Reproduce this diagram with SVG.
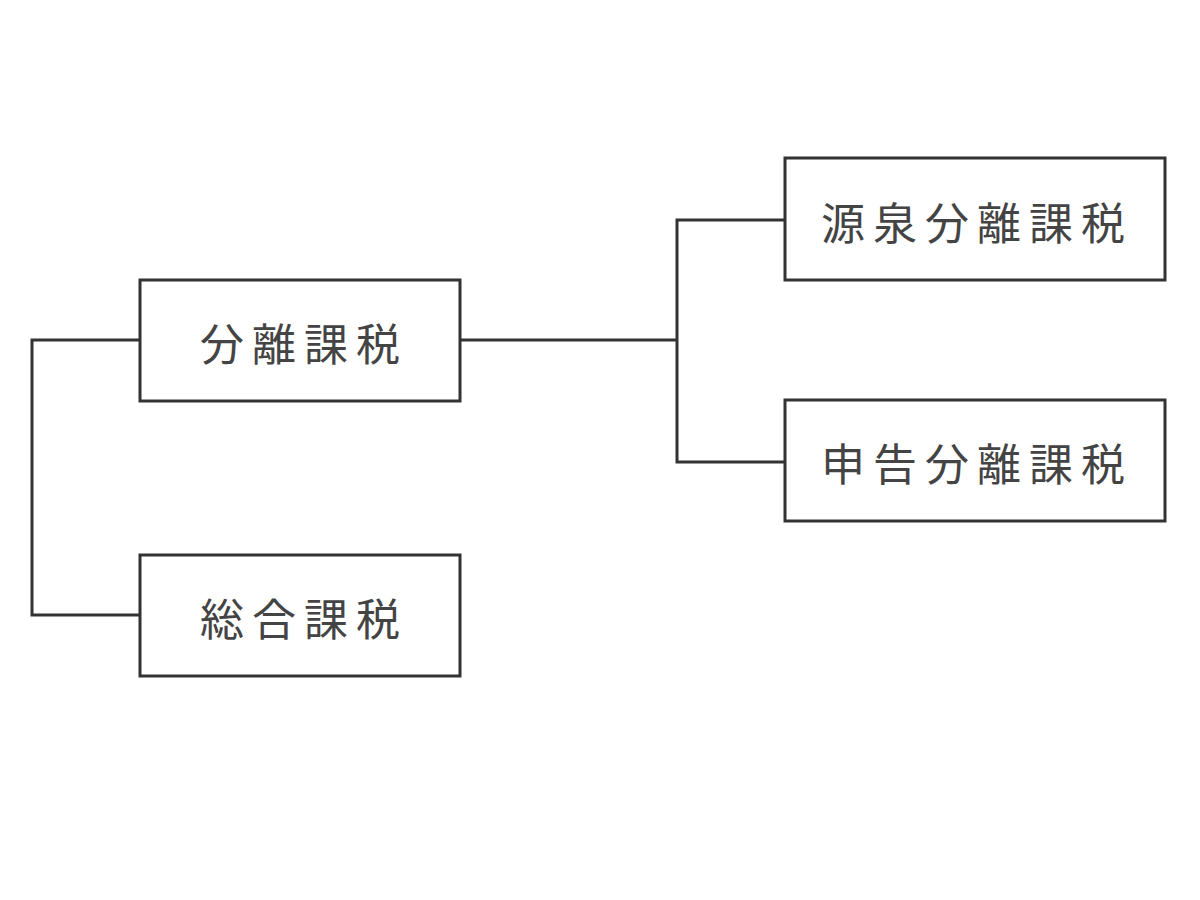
<svg xmlns="http://www.w3.org/2000/svg" width="1200" height="900" viewBox="0 0 1200 900">
<style>
.box{fill:#fff;stroke:#333;stroke-width:3}
.t{font-family:"Noto Sans CJK JP","Noto Sans CJK SC",sans-serif;font-size:44px;letter-spacing:8px;fill:#444;text-anchor:middle;dominant-baseline:central}
.c{fill:none;stroke:#333;stroke-width:3}
</style>
<rect width="1200" height="900" fill="#fff"/>
<g id="connectors">
<polyline class="c" points="140,340 32,340 32,615 140,615"/>
<line class="c" x1="460" y1="340" x2="677" y2="340"/>
<polyline class="c" points="785,220 677,220 677,462 785,462"/>
</g>
<g id="n1"><rect class="box" x="140" y="280" width="320" height="121"/><text class="t" x="304" y="342">分離課税</text></g>
<g id="n2"><rect class="box" x="140" y="555" width="320" height="121"/><text class="t" x="304" y="617">総合課税</text></g>
<g id="n3"><rect class="box" x="785" y="158" width="380" height="122"/><text class="t" x="977" y="221">源泉分離課税</text></g>
<g id="n4"><rect class="box" x="785" y="400" width="380" height="121"/><text class="t" x="977" y="462">申告分離課税</text></g>
</svg>
